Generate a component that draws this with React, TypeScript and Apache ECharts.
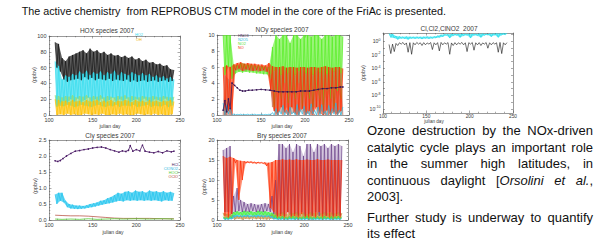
import React, { useEffect, useRef } from "react";
import * as echarts from "echarts";

// ---------- sample days (peaks / troughs of the daily oscillation) ----------
const peakDays = [107, 111, 115, 119, 123, 127, 131, 135, 139, 143, 147, 151, 155, 159, 163, 167, 171, 175, 179, 183, 187, 191, 195, 199, 203, 207, 211, 215, 219, 223, 227, 231, 235, 239, 243];
const troughDays = [109, 113, 117, 121, 125, 129, 133, 137, 141, 145, 149, 153, 157, 161, 165, 169, 173, 177, 181, 185, 189, 193, 197, 201, 205, 209, 213, 217, 221, 225, 229, 233, 237, 241];

// ---------- HOX species ----------
const hoxBlackPeak = [92, 90, 72, 68, 74, 76, 78, 80, 82, 78, 84, 80, 82, 78, 80, 76, 78, 75, 76, 73, 75, 72, 74, 70, 72, 68, 70, 66, 67, 64, 65, 62, 63, 58, 57];
const hoxBlackTrough = [60, 55, 45, 42, 44, 45, 46, 44, 48, 45, 47, 44, 46, 45, 44, 46, 43, 45, 44, 43, 45, 42, 44, 42, 43, 44, 42, 43, 44, 42, 43, 44, 42, 43];
const hoxCyanPeak = [68, 62, 45, 50, 48, 52, 50, 55, 52, 56, 50, 54, 52, 55, 50, 54, 52, 56, 50, 54, 52, 50, 54, 52, 50, 53, 50, 52, 48, 50, 47, 49, 46, 48, 45];
const hoxCyanTrough = [12, 15, 18, 16, 20, 17, 21, 16, 19, 22, 17, 20, 18, 21, 16, 19, 22, 17, 20, 18, 21, 16, 19, 20, 17, 21, 18, 16, 20, 19, 17, 21, 18, 16];
const hoxGreenPeak = [25, 24, 22, 24, 23, 25, 22, 24, 23, 25, 22, 24, 23, 25, 22, 24, 23, 22, 24, 23, 25, 22, 24, 23, 22, 24, 23, 22, 24, 23, 22, 24, 23, 22, 23];
const hoxGreenTrough = [10, 12, 11, 13, 12, 10, 11, 13, 12, 11, 10, 12, 13, 11, 10, 12, 11, 13, 10, 12, 12, 11, 13, 10, 11, 12, 13, 10, 12, 11, 11, 13, 10, 12];
const hoxYellowPeak = [20, 19, 17, 18, 16, 19, 17, 18, 16, 19, 17, 18, 19, 16, 18, 17, 19, 16, 18, 17, 19, 18, 16, 19, 17, 18, 16, 19, 17, 18, 16, 18, 17, 19, 17];
const hoxYellowTrough = [0, 1, 0, 2, 0, 1, 0, 0, 2, 1, 0, 1, 0, 2, 0, 0, 1, 0, 2, 0, 1, 0, 0, 2, 1, 0, 1, 0, 2, 0, 1, 0, 0, 1];

// ---------- NOy species ----------
const no2Peak = [10, 10, 10, 6.3, 6.2, 6.5, 6.4, 6.3, 6.3, 6.2, 6.2, 6.1, 6.1, 6.0, 8.5, 10, 9.5, 10, 10, 9, 10, 10, 9.5, 10, 10, 9.8, 10, 10, 9.5, 10, 10, 9.8, 10, 10, 9.8];
const no2Trough = [5, 6, 4.5, 5.2, 5.4, 5.3, 5.4, 5.3, 5.3, 5.2, 5.2, 5.1, 5.1, 4.5, 1, 3, 2, 4, 1.5, 3, 2, 4, 1, 3, 2, 1, 3, 2, 1, 3, 2, 1, 3, 2];
const noPeak = [6, 6.2, 6, 6.3, 6.5, 6.6, 6.4, 6.5, 6.4, 6.4, 6.3, 6.3, 6.2, 6.5, 6.1, 6, 6, 6.1, 5.9, 6, 6, 5.9, 6, 6, 5.9, 6, 6, 5.9, 6, 6.1, 6, 5.9, 6, 6, 5.8];
const noTrough = [0, 0.5, 0, 5.6, 5.8, 5.5, 5.7, 5.6, 5.5, 5.6, 5.5, 5.6, 5.4, 3, 0.5, 0, 1, 0.3, 0, 1, 0.2, 0, 0.8, 0, 0.5, 0, 1, 0.2, 0, 0.6, 0, 0.4, 0, 0.5];
const noyBrownPeak = [5, 4.5, 3, 6, 6.2, 6, 6.1, 6, 6.1, 6, 6, 5.9, 6, 5, 5.5, 5.8, 5, 5.6, 5.2, 5.8, 5, 5.5, 5.7, 5.2, 5.8, 5, 5.6, 5.3, 5.7, 5.1, 5.6, 5.4, 5.8, 5.2];
const noyBrownTrough = [0, 0, 0, 5.5, 5.6, 5.6, 5.5, 5.6, 5.5, 5.5, 5.4, 5.5, 5.4, 5.3, 1, 0, 0.5, 0, 1, 0, 0.3, 0, 0.8, 0, 0.2, 0, 1, 0, 0.5, 0, 0, 0.6, 0, 0.4, 0];
const n2o5Peak = [1.5, 1.2, 1.0, 0.1, 0.08, 0.1, 0.06, 0.1, 0.08, 0.1, 0.06, 0.1, 0.08, 0.1, 0.3, 0.8, 0.5, 1.2, 0.6, 1.0, 0.4, 1.3, 0.7, 1.1, 0.5, 1.4, 0.6, 1.0, 1.3, 0.5, 1.2, 0.8, 1.5, 0.6, 1.0];
const n2o5Trough = [0, 0.1, 0, 0.02, 0.03, 0.02, 0.03, 0.02, 0.03, 0.02, 0.03, 0.02, 0.03, 0.02, 0, 0, 0.1, 0, 0, 0.1, 0, 0, 0.1, 0, 0, 0.1, 0, 0, 0.1, 0, 0, 0.1, 0, 0];
const hno3Days = [107, 109, 111, 113, 115, 117, 120, 123, 126, 129, 132, 136, 140, 145, 150, 155, 160, 165, 170, 175, 180, 185, 190, 195, 200, 205, 210, 215, 220, 225, 230, 235, 240, 243];
const hno3Vals = [0.6, 1.8, 0.4, 2.0, 0.8, 4.0, 3.7, 3.4, 3.1, 3.0, 3.0, 3.1, 3.1, 3.15, 3.2, 3.15, 3.1, 3.0, 2.9, 2.9, 2.9, 2.9, 2.9, 3.0, 3.0, 3.0, 3.1, 3.2, 3.3, 3.3, 3.4, 3.4, 3.5, 3.5];

// ---------- Cl, Cl2, ClNO2 (log10 ppbv) ----------
const clCyanPeak = [1.15, 1.1, 0.8, 0.75, 0.7, 0.72, 0.7, 0.68, 0.7, 0.68, 0.7, 0.72, 0.7, 0.75, 0.85, 1.0, 1.05, 1.05, 1.1, 1.1, 1.1, 1.12, 1.1, 1.12, 1.12, 1.1, 1.15, 1.15, 1.12, 1.15, 1.15, 1.18, 1.18, 1.2, 1.2];
const clCyanTrough = [0.6, 0.5, 0.3, 0.45, 0.4, 0.3, 0.45, 0.4, 0.45, 0.35, 0.45, 0.4, 0.45, 0.5, 0.6, 0.7, 0.9, 0.5, 0.85, 0.9, 0.6, 0.85, 0.9, 0.5, 0.9, 0.85, 0.6, 0.9, 0.95, 0.7, 0.95, 0.6, 0.95, 1.0];
const clBlackPeak = [-0.45, -0.4, -0.3, -0.2, -0.15, -0.22, -0.18, -0.2, -0.15, -0.2, -0.18, -0.22, -0.16, -0.2, -0.18, -0.15, -0.2, -0.17, -0.22, -0.18, -0.2, -0.15, -0.2, -0.18, -0.16, -0.2, -0.18, -0.22, -0.16, -0.2, -0.18, -0.2, -0.15, -0.2, -0.18];
const clBlackTrough = [-1.8, -1.5, -0.6, -0.4, -0.5, -1.6, -1.9, -0.5, -0.4, -0.6, -0.5, -0.4, -1.2, -0.5, -1.4, -0.5, -0.4, -1.9, -0.6, -0.5, -0.4, -0.5, -1.5, -0.4, -1.3, -0.5, -0.6, -0.4, -1.0, -0.5, -0.4, -1.6, -1.8, -0.5];
const logLabelExps = [-10, -8, -6, -4, -2, 0];
const logTickExps = [-10, -9, -8, -7, -6, -5, -4, -3, -2, -1, 0, 1];

// ---------- Cly species ----------
const hclDays = [107, 110, 113, 116, 120, 125, 130, 135, 140, 145, 150, 155, 160, 165, 170, 175, 180, 184, 188, 191, 193, 196, 200, 204, 207, 210, 215, 220, 225, 230, 235, 240, 243];
const hclVals = [1.85, 1.83, 1.86, 1.92, 2.0, 2.08, 2.15, 2.17, 2.2, 2.22, 2.25, 2.27, 2.28, 2.25, 2.2, 2.16, 2.12, 2.16, 2.14, 2.18, 2.32, 2.15, 2.2, 2.16, 2.34, 2.15, 2.12, 2.1, 2.14, 2.1, 2.16, 2.13, 2.15];
const clono2Peak = [0.8, 0.85, 0.85, 0.6, 0.5, 0.48, 0.45, 0.45, 0.44, 0.46, 0.5, 0.52, 0.55, 0.6, 0.62, 0.68, 0.72, 0.78, 0.85, 0.82, 0.88, 0.9, 0.85, 0.92, 0.88, 0.9, 0.85, 0.92, 0.88, 0.9, 0.86, 0.9, 0.85, 0.88, 0.84];
const clono2Trough = [0.5, 0.6, 0.55, 0.4, 0.36, 0.35, 0.34, 0.35, 0.36, 0.38, 0.4, 0.42, 0.45, 0.48, 0.5, 0.52, 0.55, 0.58, 0.6, 0.58, 0.62, 0.6, 0.62, 0.6, 0.62, 0.6, 0.62, 0.6, 0.62, 0.6, 0.58, 0.62, 0.6, 0.6];
const minorDays = [107, 115, 125, 135, 145, 155, 165, 175, 185, 200, 215, 230, 243];
const ocloVals = [0.15, 0.14, 0.13, 0.13, 0.12, 0.1, 0.08, 0.06, 0.05, 0.05, 0.05, 0.04, 0.04];
const hoclVals = [0.03, 0.02, 0.03, 0.02, 0.04, 0.02, 0.03, 0.04, 0.03, 0.04, 0.03, 0.04, 0.03];

// ---------- Bry species ----------
const bryPurplePeak = [17.5, 18, 18.5, 6, 8, 5, 4.5, 4, 4.2, 4, 3.8, 4, 4.2, 4, 6, 10, 19, 19, 18, 19, 17, 19, 18.5, 16, 19, 19, 17, 19, 18.5, 19, 18, 19, 18.5, 19, 18.5];
const bryPurpleTrough = [2, 2, 1.5, 2, 2.2, 2, 2.1, 2, 2.2, 2, 2.1, 2, 2.2, 2, 1.5, 1, 1.5, 1, 2, 1, 1.5, 1, 2, 1, 1.5, 1, 2, 1, 1.5, 1, 2, 1, 1.5, 1];
const bryRedPeak = [16, 15.5, 15.8, 15.5, 15, 14.8, 14.7, 14.6, 14.6, 14.5, 14.5, 14.4, 14.4, 14.3, 14.5, 15, 15, 15.2, 15, 15.1, 15, 15.2, 15, 15, 15.1, 15, 15, 15.2, 15, 15, 15.1, 15, 15, 15, 15];
const bryRedTrough = [1, 0.5, 1.5, 14.3, 5, 10, 14.2, 14.3, 14.2, 14.1, 14.2, 14.1, 13.5, 3, 2, 0.5, 1, 0, 2, 0.5, 1, 0, 1.5, 0.5, 0, 1, 0.5, 2, 0, 1, 0.5, 0, 1, 0.5];
const bryGreenPeak = [0.8, 0.6, 0.9, 2.0, 2.2, 2.0, 2.3, 2.1, 2.2, 2.0, 2.3, 2.1, 2.2, 2.0, 1.8, 1.2, 0.8, 1.0, 0.7, 0.9, 1.0, 0.8, 0.7, 0.9, 1.0, 0.8, 0.7, 0.9, 0.8, 1.0, 0.7, 0.9, 0.8, 1.0, 0.8];
const bryGreenTrough = [0.2, 0.3, 0.5, 1.2, 1.3, 1.1, 1.2, 1.3, 1.1, 1.2, 1.3, 1.2, 1.1, 1.0, 0.5, 0.3, 0.2, 0.3, 0.2, 0.3, 0.2, 0.3, 0.2, 0.3, 0.2, 0.3, 0.2, 0.3, 0.2, 0.3, 0.2, 0.3, 0.2, 0.3];
const bryCyanPeak = [0.5, 0.4, 0.6, 1.2, 1.3, 1.1, 1.2, 1.3, 1.1, 1.2, 1.3, 1.2, 1.1, 1.2, 1.0, 0.6, 0.4, 0.5, 0.3, 0.5, 0.4, 0.5, 0.3, 0.4, 0.5, 0.3, 0.4, 0.5, 0.3, 0.4, 0.5, 0.3, 0.4, 0.5, 0.4];
const bryCyanTrough = [0.1, 0.1, 0.2, 0.7, 0.8, 0.7, 0.8, 0.7, 0.8, 0.7, 0.8, 0.7, 0.8, 0.6, 0.2, 0.1, 0.1, 0.1, 0.1, 0.1, 0.1, 0.1, 0.1, 0.1, 0.1, 0.1, 0.1, 0.1, 0.1, 0.1, 0.1, 0.1, 0.1, 0.1];
const bryBrownPeak = [1.8, 1.5, 1.6, 1.2, 1.0, 1.1, 1.0, 1.2, 1.0, 1.1, 1.0, 1.2, 1.1, 1.0, 1.4, 1.8, 1.6, 1.9, 1.5, 1.8, 1.7, 1.9, 1.6, 1.8, 1.5, 1.9, 1.7, 1.8, 1.6, 1.9, 1.7, 1.8, 1.6, 1.9, 1.7];
const bryBrownTrough = [0.3, 0.2, 0.4, 0.2, 0.3, 0.1, 0.3, 0.2, 0.4, 0.2, 0.3, 0.2, 0.1, 0.3, 0.2, 0.4, 0.2, 0.3, 0.1, 0.3, 0.2, 0.4, 0.2, 0.3, 0.2, 0.1, 0.3, 0.2, 0.4, 0.2, 0.3, 0.1, 0.3, 0.2];

// ---------- texts ----------
const slideTitle = "The active chemistry  from REPROBUS CTM model in the core of the FriAc is presented.";
const paraLines = [
  "Ozone destruction by the NOx-driven",
  "catalytic cycle plays an important role",
  "in the summer high latitudes, in",
  "continuous daylight [_Orsolini_ _et_ _al._,",
  "2003].",
  "Further study is underway to quantify",
  "its effect",
];
const paraJustify = [true, true, true, true, false, true, false];
const paraY = [130.5, 147, 163.5, 180, 196, 217.5, 233.5];
const chartTitles = ["HOX species 2007", "NOy species 2007", "Cl,Cl2,ClNO2  2007", "Cly species 2007", "Bry species 2007"];

const FONT = "'Liberation Sans', Arial, Helvetica, sans-serif";
const AX = "#555";
const TXT = "#3a3a3a";

const grids = [
  { left: 49, top: 36, width: 131, height: 79, min: 0, max: 100, interval: 20, minor: 4, dec: 0, titleX: 107, titleY: 30, jdX: 110, jdY: 126, nameX: 34, nameY: 75, xl: 5.5, xm: 1.5 },
  { left: 217, top: 35, width: 132, height: 80, min: 0, max: 10, interval: 2, minor: 4, dec: 0, titleX: 282, titleY: 29.5, jdX: 282, jdY: 125.5, nameX: 204, nameY: 75, xl: 5.5, xm: 1.5 },
  { left: 383, top: 33, width: 130, height: 80, min: -10.6, max: 1.25, interval: 0, minor: 0, dec: 0, titleX: 449, titleY: 28, jdX: 434, jdY: 121, nameX: 363, nameY: 73, xl: 4.8, xm: 0.6 },
  { left: 49, top: 140, width: 131, height: 80, min: 0, max: 2.5, interval: 0.5, minor: 5, dec: 1, titleX: 110, titleY: 135.5, jdX: 113, jdY: 231.5, nameX: 35, nameY: 186, xl: 5.5, xm: 1.5 },
  { left: 217, top: 140, width: 131, height: 80, min: 0, max: 20, interval: 5, minor: 5, dec: 0, titleX: 282, titleY: 135.5, jdX: 282, jdY: 231.5, nameX: 204, nameY: 187, xl: 5.5, xm: 1.5 },
];

function zig(pd: number[], pv: number[], td: number[], tv: number[]) {
  const pts: number[][] = [];
  pd.forEach((d, i) => pts.push([d, pv[i]]));
  td.forEach((d, i) => pts.push([d, tv[i]]));
  pts.sort((a, b) => a[0] - b[0]);
  return pts;
}
function pairs(d: number[], v: number[]) {
  return d.map((x, i) => [x, v[i]]);
}

function line(g: number, color: string, data: number[][], width = 0.7, marker = false): any {
  return {
    type: "line",
    xAxisIndex: 2 * g,
    yAxisIndex: 2 * g,
    data,
    silent: true,
    symbol: marker ? "circle" : "none",
    symbolSize: 1.6,
    showSymbol: marker,
    showAllSymbol: true,
    itemStyle: { color },
    lineStyle: { color, width },
  };
}

// envelope between the peaks and the troughs of one oscillating series, filled
function band(g: number, color: string, opacity: number, pd: number[], pv: number[], td: number[], tv: number[]): any {
  const upper = pairs(pd, pv);
  const lower = pairs(td, tv);
  return {
    type: "custom",
    xAxisIndex: 2 * g,
    yAxisIndex: 2 * g,
    silent: true,
    clip: true,
    data: upper,
    renderItem: (params: any, api: any) => {
      if (params.dataIndex !== 0) return null;
      const pts = upper.map((p) => api.coord(p)).concat(lower.slice().reverse().map((p) => api.coord(p)));
      return { type: "polygon", shape: { points: pts }, style: { fill: color, opacity } };
    },
  };
}

function osc(g: number, color: string, fillColor: string, opacity: number, pd: number[], pv: number[], td: number[], tv: number[], width = 0.7): any[] {
  return [band(g, fillColor, opacity, pd, pv, td, tv), line(g, color, zig(pd, pv, td, tv), width)];
}

function buildOption() {
  const canvas = document.createElement("canvas");
  const ctx = canvas.getContext("2d")!;
  const tw = (t: string, size: number, italic = false) => {
    ctx.font = `${italic ? "italic " : ""}${size}px ${FONT}`;
    return ctx.measureText(t).width;
  };

  const graphics: any[] = [];
  // slide title
  const titleSize = (12 * (446.7 - 21.7)) / tw(slideTitle, 12);
  graphics.push({
    type: "text", x: 21.7, y: 10.5,
    style: { text: slideTitle, fontSize: titleSize, fontFamily: FONT, fill: "#111", align: "left", verticalAlign: "middle" },
  });

  // paragraph
  const pLeft = 367, pRight = 593;
  const pSize = 13;
  paraLines.forEach((ln, li) => {
    const words = ln.split(" ").map((w) =>
      w.split("_").map((t, k) => ({ t, it: k % 2 === 1 })).filter((s) => s.t.length > 0)
    );
    const widths = words.map((segs) => segs.reduce((a, s) => a + tw(s.t, pSize, s.it), 0));
    const sum = widths.reduce((a, b) => a + b, 0);
    const gap = paraJustify[li] && words.length > 1 ? (pRight - pLeft - sum) / (words.length - 1) : tw(" ", pSize);
    let x = pLeft;
    words.forEach((segs, wi) => {
      let sx = x;
      segs.forEach((s) => {
        graphics.push({
          type: "text", x: sx, y: paraY[li],
          style: { text: s.t, fontSize: pSize, fontFamily: FONT, fontStyle: s.it ? "italic" : "normal", fill: "#111", align: "left", verticalAlign: "middle" },
        });
        sx += tw(s.t, pSize, s.it);
      });
      x += widths[wi] + gap;
    });
  });

  // chart titles, axis names
  grids.forEach((g, i) => {
    graphics.push({ type: "text", x: g.titleX, y: g.titleY, style: { text: chartTitles[i], fontSize: 6.5, fontFamily: FONT, fill: TXT, align: "center", verticalAlign: "middle" } });
    graphics.push({ type: "text", x: g.jdX, y: g.jdY, style: { text: "julian day", fontSize: i === 2 ? 4.6 : 5, fontFamily: FONT, fill: TXT, align: "center", verticalAlign: "middle" } });
    graphics.push({ type: "text", x: g.nameX, y: g.nameY, rotation: Math.PI / 2, style: { text: "(ppbv)", fontSize: 5.5, fontFamily: FONT, fill: TXT, align: "center", verticalAlign: "middle" } });
  });

  // tiny legends
  const leg = (x: number, y: number, text: string, fill: string, align = "left") =>
    graphics.push({ type: "text", x, y, style: { text, fontSize: 3.8, fontFamily: FONT, fill, align, verticalAlign: "middle" } });
  leg(135, 35, "HO2", "#33d8ee");
  leg(136, 39.5, "OH", "#f0b400");
  leg(238, 36, "HNO3", "#4a1a66");
  leg(238, 40, "N2O5", "#2ab8e0");
  leg(238, 44, "NO2", "#55dd22");
  leg(238, 48, "NO", "#ee3300");
  leg(178, 165, "HCl", "#4a1a66", "right");
  leg(178, 169, "ClONO2", "#2ab8e0", "right");
  leg(178, 173, "HOCl", "#55cc33", "right");
  leg(178, 177, "OClO", "#b04030", "right");

  // axes
  const xAxes: any[] = [];
  const yAxes: any[] = [];
  const lineS = { color: AX, width: 0.6 };
  const tickS = { color: AX, width: 0.5 };
  grids.forEach((g, i) => {
    const base = {
      gridIndex: i, type: "value", splitLine: { show: false },
      axisLine: { show: true, onZero: false, lineStyle: lineS },
    };
    const xLabel = { fontSize: g.xl, color: TXT, margin: g.xm, fontFamily: FONT, showMinLabel: true, showMaxLabel: true };
    ["bottom", "top"].forEach((pos, k) => {
      xAxes.push({
        ...base, position: pos, min: 100, max: 250, interval: 50,
        axisTick: { show: true, inside: true, length: 2.5, lineStyle: tickS },
        minorTick: { show: true, splitNumber: 5, length: 1.3, lineStyle: tickS },
        axisLabel: k === 0 ? xLabel : { show: false },
      });
    });
    ["left", "right"].forEach((pos, k) => {
      if (i === 2) {
        yAxes.push({
          ...base, position: pos, min: g.min, max: g.max,
          axisTick: { show: true, inside: true, length: 2, lineStyle: tickS, customValues: logTickExps },
          minorTick: { show: false },
          axisLabel: k === 0 ? {
            show: true, customValues: logLabelExps, margin: 2.5, fontFamily: FONT,
            formatter: (v: number) => `{b|10}{s|${Math.round(v)}}`,
            rich: {
              b: { fontSize: 5.2, color: TXT, fontFamily: FONT },
              s: { fontSize: 3.6, color: TXT, fontFamily: FONT, verticalAlign: "top", padding: [0, 0, 3, 0] },
            },
          } : { show: false },
        });
      } else {
        yAxes.push({
          ...base, position: pos, min: g.min, max: g.max, interval: g.interval,
          axisTick: { show: true, inside: true, length: 2.5, lineStyle: tickS },
          minorTick: { show: true, splitNumber: g.minor, length: 1.3, lineStyle: tickS },
          axisLabel: k === 0 ? {
            show: true, fontSize: 5.5, color: TXT, margin: 2.5, fontFamily: FONT, showMinLabel: true, showMaxLabel: true,
            formatter: (v: number) => v.toFixed(g.dec),
          } : { show: false },
        });
      }
    });
  });

  const series: any[] = [
    // HOX
    ...osc(0, "#141414", "#333333", 0.8, peakDays, hoxBlackPeak, troughDays, hoxBlackTrough),
    ...osc(0, "#33dcee", "#33dcee", 0.7, peakDays, hoxCyanPeak, troughDays, hoxCyanTrough),
    ...osc(0, "#90dc80", "#90dc80", 0.65, peakDays, hoxGreenPeak, troughDays, hoxGreenTrough),
    ...osc(0, "#ffc000", "#ffc000", 0.65, peakDays, hoxYellowPeak, troughDays, hoxYellowTrough),
    // NOy
    ...osc(1, "#55ee22", "#66ee33", 0.65, peakDays, no2Peak, troughDays, no2Trough),
    ...osc(1, "#cc7a66", "#cc7a66", 0.55, troughDays, noyBrownPeak, peakDays, noyBrownTrough),
    ...osc(1, "#ff2a00", "#ff3300", 0.6, peakDays, noPeak, troughDays, noTrough),
    line(1, "#2ab8e0", zig(peakDays, n2o5Peak, troughDays, n2o5Trough)),
    line(1, "#3a1658", pairs(hno3Days, hno3Vals), 0.8, true),
    // Cl, Cl2, ClNO2
    ...osc(2, "#22e0ee", "#22e0ee", 0.65, peakDays, clCyanPeak, troughDays, clCyanTrough),
    line(2, "#111111", zig(peakDays, clBlackPeak, troughDays, clBlackTrough), 0.6),
    // Cly
    ...osc(3, "#22c4ee", "#22c4ee", 0.7, peakDays, clono2Peak, troughDays, clono2Trough),
    line(3, "#b04030", pairs(minorDays, ocloVals), 0.7),
    line(3, "#55cc33", pairs(minorDays, hoclVals), 0.8),
    line(3, "#4a1a66", pairs(hclDays, hclVals), 0.8, true),
    // Bry
    ...osc(4, "#6a4088", "#a88cbc", 0.5, peakDays, bryPurplePeak, troughDays, bryPurpleTrough),
    ...osc(4, "#ff2a00", "#ff3300", 0.55, peakDays, bryRedPeak, troughDays, bryRedTrough),
    ...osc(4, "#c89040", "#c89040", 0.6, peakDays, bryBrownPeak, troughDays, bryBrownTrough),
    ...osc(4, "#44ee44", "#44ee44", 0.7, peakDays, bryGreenPeak, troughDays, bryGreenTrough),
    ...osc(4, "#22c8ee", "#22c8ee", 0.7, peakDays, bryCyanPeak, troughDays, bryCyanTrough),
  ];

  return {
    animation: false,
    backgroundColor: "#ffffff",
    textStyle: { fontFamily: FONT },
    grid: grids.map((g) => ({ left: g.left, top: g.top, width: g.width, height: g.height, containLabel: false })),
    xAxis: xAxes,
    yAxis: yAxes,
    series,
    graphic: graphics,
  };
}

export default function App() {
  const ref = useRef<HTMLDivElement>(null);
  useEffect(() => {
    const chart = echarts.init(ref.current!, null, { renderer: "svg" });
    chart.setOption(buildOption());
    return () => chart.dispose();
  }, []);
  return (
    <div
      ref={ref}
      style={{ position: "fixed", left: 0, top: 0, width: 600, height: 247, background: "#fff" }}
    />
  );
}
